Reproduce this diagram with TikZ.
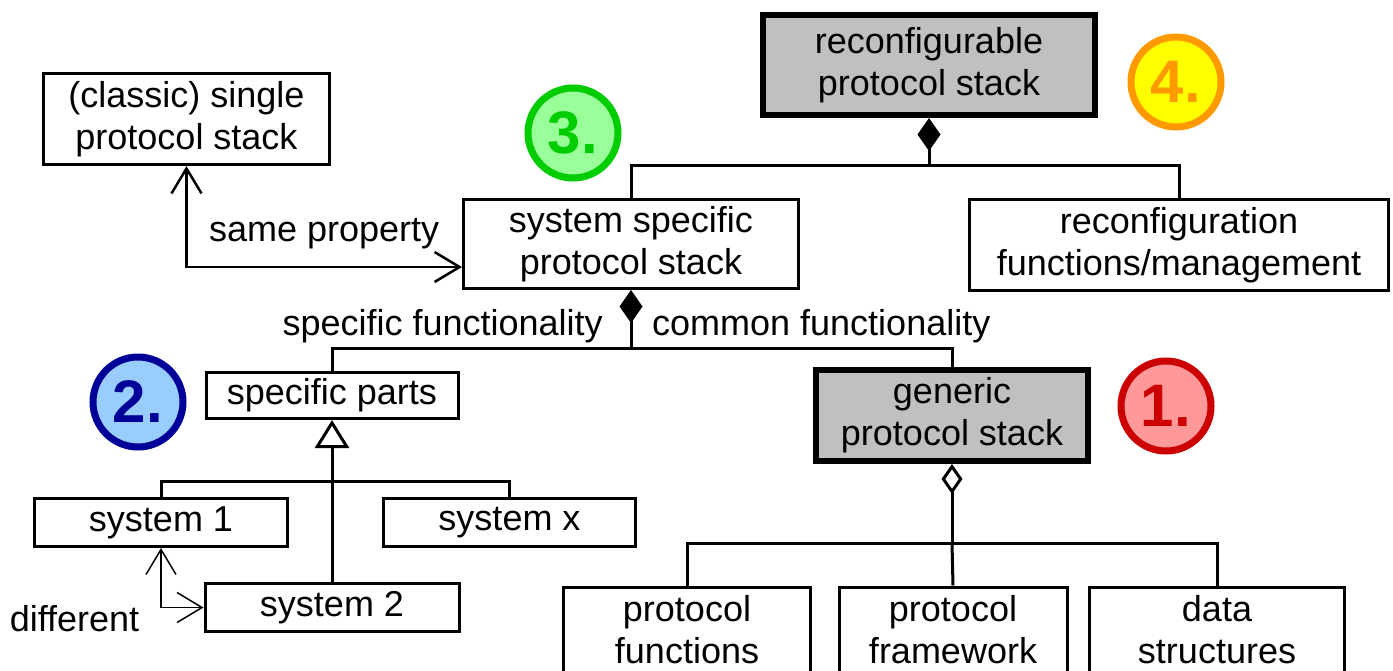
\documentclass[tikz,border=0pt]{standalone}
\usepackage{fontspec}
\setmainfont{Liberation Sans}
\usepackage{xcolor}
\usepackage{tikz}
\usetikzlibrary{arrows.meta, positioning, calc}

\definecolor{kerngrau}{RGB}{192,192,192}
\definecolor{rotrand}{RGB}{204,0,0}
\definecolor{rotfuell}{RGB}{255,153,153}
\definecolor{blaurand}{RGB}{0,0,153}
\definecolor{blaufuell}{RGB}{153,204,255}
\definecolor{gruenrand}{RGB}{0,204,0}
\definecolor{gruenfuell}{RGB}{153,255,153}
\definecolor{orangerand}{RGB}{255,153,0}
\definecolor{gelbfuell}{RGB}{255,255,0}

\tikzset{
  raute/.tip={Diamond[length=33pt, width=23pt]},
  hohlraute/.tip={Diamond[open, length=30pt, width=21pt]},
  dreieck/.tip={Triangle[open, length=28pt, width=34pt]},
  offen/.tip={Straight Barb[length=25pt, width=30pt]}
}

\begin{document}
\begin{tikzpicture}[
    x=1pt, y=-1pt,
    font=\fontsize{36}{42}\selectfont,
    kasten/.style={draw, line width=3pt, align=center, inner sep=0pt},
    kern/.style={kasten, fill=kerngrau, line width=6pt},
    verb/.style={line width=3pt},
    lbl/.style={inner sep=0pt},
    nummer/.style={circle, line width=7pt, minimum size=90pt, inner sep=0pt,
                   font=\fontsize{60}{60}\selectfont\bfseries}
  ]
    \useasboundingbox (0,0) rectangle (1393,670);

    % boxes
    \node[kern, minimum width=332pt, minimum height=100pt] (rps) at (929,65)
      {reconfigurable\\protocol stack};
    \node[kasten, minimum width=286pt, minimum height=91pt] (cls) at (186.5,119)
      {(classic) single\\protocol stack};
    \node[kasten, minimum width=335pt, minimum height=89pt] (sps) at (631,244)
      {system specific\\protocol stack};
    \node[kasten, minimum width=419pt, minimum height=91pt] (rcf) at (1179,245)
      {reconfiguration\\functions/management};
    \node[kasten, minimum width=252pt, minimum height=46pt] (spp) at (332,395.5)
      {specific parts};
    \node[kern, minimum width=272pt, minimum height=91pt] (gps) at (952,415.5)
      {generic\\protocol stack};
    \node[kasten, minimum width=253pt, minimum height=48pt] (sys1) at (161,522.5)
      {system 1};
    \node[kasten, minimum width=252pt, minimum height=48pt] (sysx) at (509.5,522.5)
      {system x};
    \node[kasten, minimum width=254pt, minimum height=48pt] (sys2) at (332,607.5)
      {system 2};
    \node[kasten, minimum width=247pt, minimum height=86pt] (pfn) at (687,630)
      {protocol\\functions};
    \node[kasten, minimum width=228pt, minimum height=86pt] (pfw) at (953,630)
      {protocol\\framework};
    \node[kasten, minimum width=255pt, minimum height=86pt] (dst) at (1217,630)
      {data\\structures};

    % numbered circles
    \foreach \nr/\x/\y/\rand/\fuell in {1/1166/406/rotrand/rotfuell,
        2/138/402/blaurand/blaufuell, 3/573/133/gruenrand/gruenfuell,
        4/1176/82/orangerand/gelbfuell}
      \node[nummer, draw=\rand, fill=\fuell, text=\rand] (n\nr) at (\x,\y) {\nr.};

    % composition trees
    \coordinate (k1) at (929,165);
    \draw[verb, {raute}-] (rps.south) -- (k1) -| (sps.north);
    \draw[verb] (k1) -| (rcf.north);

    \coordinate (k2) at (631,348);
    \draw[verb, {raute}-] (sps.south) -- (k2) -| (spp.north);
    \draw[verb] (k2) -| (gps.north);
    \node[lbl, anchor=base east] (sfn) at (603,335) {specific functionality};
    \node[lbl, anchor=base west] (cfn) at (652,335) {common functionality};

    \coordinate (k3) at (952,543);
    \draw[verb, {hohlraute}-] (gps.south) -- (k3) -| (pfn.north);
    \draw[verb] (k3) -- (pfw.north);
    \draw[verb] (k3) -| (dst.north);

    % generalisation
    \coordinate (k4) at (332,481);
    \draw[verb, -{dreieck}] (sys2.north) -- (spp.south);
    \draw[verb] (sys1.north) |- (k4) -| (sysx.north);

    % relations
    \draw[line width=2.5pt, {offen}-{offen}] (cls.south) |- ([yshift=-23pt]sps.west)
      node[lbl, pos=0.75, above=17pt] (smp) {same property};
    \draw[line width=1.5pt, {offen}-{offen}] (sys1.south) |- (sys2.west)
      node[lbl, pos=0.5, anchor=north east, xshift=-21pt, yshift=3pt] (dif) {different};
  \end{tikzpicture}
\end{document}
